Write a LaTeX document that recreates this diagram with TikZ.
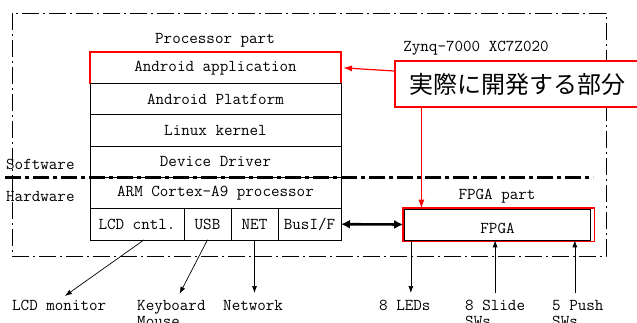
\documentclass[tikz,border=0pt]{standalone}
\usepackage{fontspec}
\newfontfamily\jpfont{Noto Sans CJK JP}
\usepackage{tikz}
\usetikzlibrary{arrows.meta,positioning,calc}
\newcommand{\mono}{\ttfamily\fontsize{16.6pt}{16pt}\selectfont}

\begin{document}
\begin{tikzpicture}[
    x=1pt, y=-1pt,
    row/.style={rectangle, draw, line width=0.6pt, minimum width=251pt, minimum height=31.3pt, outer sep=0pt, font=\mono},
    cell/.style={rectangle, draw, line width=0.6pt, minimum height=31.3pt, inner sep=0pt, outer sep=0pt, font=\mono},
    txt/.style={inner sep=0pt, font=\mono, align=left},
    redbox/.style={draw=red, line width=1.6pt},
    frame/.style={line width=0.7pt, dash pattern=on 17pt off 4pt on 2pt off 4pt},
    border/.style={line width=3pt, dash pattern=on 16pt off 4pt on 4pt off 4pt},
    arr/.style={-{Latex[length=7pt,width=5pt]}, line width=0.7pt},
    redarr/.style={-{Latex[length=9pt,width=6pt]}, draw=red, line width=1.2pt}
]
    \useasboundingbox (0,0) rectangle (637,322);
    \draw[frame] (12,13) rectangle (606,256);

    \node[txt] (proc) at (215,40) {Processor part};
    \node[txt] (zynq) at (476,48) {Zynq-7000 XC7Z020};

    \node[row, redbox] (app) at (215.5,67.7) {Android application};
    \node[row, below=0pt of app] (plat) {Android Platform};
    \node[row, below=0pt of plat] (kernel) {Linux kernel};
    \node[row, below=0pt of kernel] (driver) {Device Driver};
    \node[row, below=0pt of driver] (arm) {ARM Cortex-A9 processor};

    \node[cell, minimum width=94pt, below=0pt of arm.south west, anchor=north west] (lcd) {LCD cntl.};
    \node[cell, minimum width=47pt, right=0pt of lcd] (usb) {USB};
    \node[cell, minimum width=47pt, right=0pt of usb] (net) {NET};
    \node[cell, minimum width=63pt, right=0pt of net] (bus) {BusI/F};

    \node[txt, anchor=west] (sw) at (6,164) {Software};
    \node[txt, anchor=west] (hw) at (6,196) {Hardware};
    \draw[border] (5,177) -- (593,177);

    \node[txt] (fpart) at (497,196) {FPGA part};
    \node[rectangle, draw, line width=0.6pt, minimum width=186pt, minimum height=31pt] (fpga) at (497.5,224.5) {};
    \node[txt] (fpgatxt) at ([yshift=-3.5pt]fpga.center) {FPGA};
    \draw[redbox] ([xshift=-1pt,yshift=1pt]fpga.north west) rectangle ([xshift=3.5pt,yshift=-1pt]fpga.south east);

    \draw[{Latex[length=9pt,width=9pt]}-{Latex[length=9pt,width=9pt]}, line width=2.6pt, shorten >=1pt] (bus.east) -- (fpga.west);

    \node[draw=red, line width=1.2pt, fill=white, minimum width=245pt, minimum height=46pt, font=\jpfont\fontsize{24pt}{28pt}\selectfont] (callout) at (517.5,84) {実際に開発する部分};
    \draw[redarr, shorten >=2pt] ([yshift=13pt]callout.west) -- (app.east);
    \coordinate (cdown) at ([xshift=27pt]callout.south west);
    \draw[redarr] (cdown) -- (cdown |- fpga.north);

    % outside world
    \node[txt, anchor=north west] (lcdmon) at (12,300) {LCD monitor};
    \node[txt, anchor=north west] (kbd) at (137,300) {Keyboard\\Mouse};
    \node[txt, anchor=north west] (netw) at (223,300) {Network};
    \node[txt, anchor=north west] (leds) at (379,300) {8 LEDs};
    \node[txt, anchor=north west] (slide) at (465,300) {8 Slide\\SWs};
    \node[txt, anchor=north west] (push) at (552,300) {5 Push\\SWs};
    \coordinate (ledpt) at ([xshift=6pt]leds.north);
    \coordinate (pushpt) at ([xshift=-3pt]push.north);

    \draw[arr, shorten >=7pt] ([xshift=7pt]lcd.south) -- (lcdmon.north);
    \draw[arr, shorten >=7pt] (usb.south) -- ([xshift=5pt]kbd.north);
    \draw[arr, shorten >=7pt] (net.south) -- (net.south |- netw.north);
    \draw[arr, shorten >=7pt] (ledpt |- fpga.south) -- (ledpt);
    \draw[arr, shorten <=7pt] (slide.north) -- (slide.north |- fpga.south);
    \draw[arr, shorten <=7pt] (pushpt) -- (pushpt |- fpga.south);
\end{tikzpicture}
\end{document}
